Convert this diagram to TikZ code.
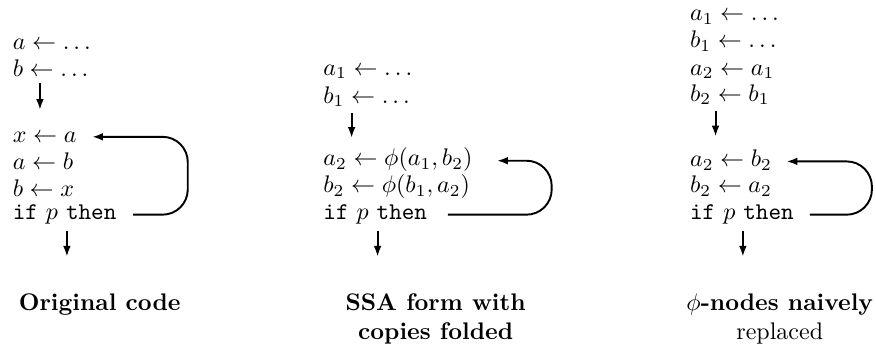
\documentclass[tikz,border=0pt]{standalone}
\usepackage{amssymb}
\usepackage{tikz}
\usetikzlibrary{arrows.meta}
\newcommand{\ifpthen}{\texttt{if} $p$ \texttt{then}}
\newcommand{\backloop}[5]{%
  \draw[backedge] (#3,0 |- #1.mid east) -- (#4,0 |- #1.mid east)
        -- (#4,0 |- #2.mid east) -- (#5,0 |- #2.mid east);}
\tikzset{
  codeline/.style={anchor=base west, inner xsep=0pt, inner ysep=2.5pt},
  flow/.style={-{Latex[length=4.5pt,width=3.2pt]}, line width=0.8pt},
  backedge/.style={flow, rounded corners=10.5pt},
  caption/.style={anchor=north, align=center, inner sep=0pt, font=\bfseries}
}

\begin{document}
\begin{tikzpicture}
  \useasboundingbox (0,0) rectangle (12.83,5.18);
  \node[codeline] (orig1) at (0.18,4.45) {$a \leftarrow \ldots$};
  \node[codeline] (orig2) at (0.18,4.06) {$b \leftarrow \ldots$};
  \node[codeline] (orig3) at (0.18,3.10) {$x \leftarrow a$};
  \node[codeline] (orig4) at (0.18,2.69) {$a \leftarrow b$};
  \node[codeline] (orig5) at (0.18,2.30) {$b \leftarrow x$};
  \node[codeline] (orig6) at (0.18,1.96) {\ifpthen};
  \coordinate (origdrop) at (0.585,3.57);
  \coordinate (origexit) at (0.98,1.42);
  \draw[flow] (orig2.south -| origdrop) -- (origdrop);
  \draw[flow] (orig6.south -| origexit) -- (origexit);
  \backloop{orig6}{orig3}{1.95}{2.75}{1.35}
  \node[caption] (origcap) at (1.46,0.88) {Original code};

  \node[codeline] (ssa1) at (4.73,4.08) {$a_1 \leftarrow \ldots$};
  \node[codeline] (ssa2) at (4.73,3.67) {$b_1 \leftarrow \ldots$};
  \node[codeline] (ssa3) at (4.73,2.75) {$a_2 \leftarrow \phi(a_1,b_2)$};
  \node[codeline] (ssa4) at (4.73,2.36) {$b_2 \leftarrow \phi(b_1,a_2)$};
  \node[codeline] (ssa5) at (4.73,1.96) {\ifpthen};
  \coordinate (ssadrop) at (5.15,3.16);
  \coordinate (ssaexit) at (5.53,1.42);
  \draw[flow] (ssa2.south -| ssadrop) -- (ssadrop);
  \draw[flow] (ssa5.south -| ssaexit) -- (ssaexit);
  \backloop{ssa5}{ssa3}{6.56}{8.08}{7.28}
  \node[caption] (ssacap) at (6.38,0.88) {SSA form with\\copies folded};

  \node[codeline] (naive1) at (10.10,4.88) {$a_1 \leftarrow \ldots$};
  \node[codeline] (naive2) at (10.10,4.48) {$b_1 \leftarrow \ldots$};
  \node[codeline] (naive3) at (10.10,4.08) {$a_2 \leftarrow a_1$};
  \node[codeline] (naive4) at (10.10,3.70) {$b_2 \leftarrow b_1$};
  \node[codeline] (naive5) at (10.10,2.74) {$a_2 \leftarrow b_2$};
  \node[codeline] (naive6) at (10.10,2.36) {$b_2 \leftarrow a_2$};
  \node[codeline] (naive7) at (10.10,1.96) {\ifpthen};
  \coordinate (naivedrop) at (10.48,3.18);
  \coordinate (naiveexit) at (10.88,1.42);
  \draw[flow] (naive4.south -| naivedrop) -- (naivedrop);
  \draw[flow] (naive7.south -| naiveexit) -- (naiveexit);
  \backloop{naive7}{naive5}{11.86}{12.77}{11.52}
  \node[caption] (naivecap) at (11.42,0.88) {$\phi$-nodes naively\\\mdseries replaced};
\end{tikzpicture}
\end{document}
